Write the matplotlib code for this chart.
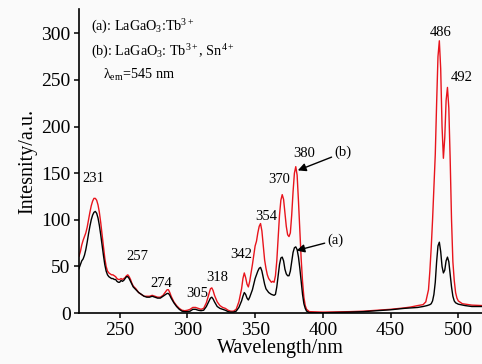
import matplotlib
matplotlib.use("Agg")
import matplotlib.pyplot as plt

plt.rcParams['font.family'] = ['Liberation Serif', 'DejaVu Serif']
plt.rcParams['mathtext.fontset'] = 'custom'
plt.rcParams['mathtext.rm'] = 'Liberation Serif'
plt.rcParams['mathtext.it'] = 'Liberation Serif:italic'

# (a) LaGaO3:Tb3+
wl_a = [220, 221, 222, 223, 224, 225, 226, 227, 228, 229, 230, 231, 232, 233, 234, 235,
        236, 237, 238, 239, 240, 241, 242, 243, 244, 245, 246, 247, 248, 249, 250, 251,
        252, 253, 254, 255, 256, 257, 258, 259, 260, 262, 264, 266, 268, 270, 272, 274,
        276, 278, 280, 282, 284, 285, 286, 287, 288, 290, 292, 294, 296, 298, 300, 302,
        304, 306, 308, 310, 312, 314, 316, 317, 318, 319, 320, 322, 324, 326, 328, 330,
        332, 334, 336, 338, 340, 341, 342, 343, 344, 345, 346, 348, 350, 352, 353, 354,
        355, 356, 357, 358, 360, 362, 364, 365, 366, 367, 368, 369, 370, 371, 372, 373,
        374, 375, 376, 377, 378, 379, 380, 381, 382, 383, 384, 385, 386, 387, 388, 390,
        400, 420, 430, 440, 450, 460, 465, 470, 474, 477, 479, 480, 481, 482, 483, 484,
        485, 486, 487, 488, 489, 490, 491, 492, 493, 494, 495, 496, 497, 498, 500, 505,
        510, 518]
int_a = [48, 52, 56, 58, 62, 68, 76, 85, 93, 100, 105, 108, 109, 107, 102, 94,
         84, 73, 62, 52, 45, 41, 39, 38, 37, 37, 36, 36, 34, 33, 33, 35,
         34, 35, 37, 39, 39, 37, 34, 31, 28, 25, 22, 20, 18, 17, 17, 18,
         17, 16, 16, 18, 20, 21, 21, 19, 16, 11, 7, 4, 2, 1.5, 1.5, 2,
         4, 4, 3, 2.5, 3, 7, 13, 16, 17, 15, 12, 7, 5, 4, 3, 1.5,
         1, 1, 2, 6, 13, 18, 22, 20, 16, 14, 17, 25, 37, 45, 48, 49,
         45, 38, 31, 26, 22, 20, 19, 20, 28, 40, 52, 59, 60, 56, 47, 42,
         40, 40, 45, 55, 65, 70, 71, 68, 60, 48, 34, 20, 10, 5, 2, 0.5,
         0.3, 1, 1.5, 2.5, 3.5, 5, 5.5, 6, 7, 8, 9, 10, 13, 20, 33, 55,
         72, 76, 66, 50, 43, 46, 56, 60, 55, 42, 28, 18, 13, 11, 9.5, 8,
         7, 7]

# (b) LaGaO3:Tb3+, Sn4+
wl_b = [220, 221, 222, 223, 224, 225, 226, 227, 228, 229, 230, 231, 232, 233, 234, 235,
        236, 237, 238, 239, 240, 241, 242, 243, 244, 245, 246, 247, 248, 249, 250, 251,
        252, 253, 254, 255, 256, 257, 258, 259, 260, 262, 264, 266, 268, 270, 272, 274,
        276, 278, 280, 282, 284, 285, 286, 287, 288, 290, 292, 294, 296, 298, 300, 302,
        304, 306, 308, 310, 312, 314, 316, 317, 318, 319, 320, 322, 324, 326, 328, 330,
        332, 334, 336, 338, 340, 341, 342, 343, 344, 345, 346, 348, 349, 350, 351, 352,
        353, 354, 355, 356, 357, 358, 359, 360, 361, 362, 363, 364, 365, 366, 367, 368,
        369, 370, 371, 372, 373, 374, 375, 376, 377, 378, 379, 380, 381, 382, 383, 384,
        385, 386, 387, 388, 390, 400, 420, 430, 440, 450, 460, 465, 470, 474, 476, 478,
        479, 480, 481, 482, 483, 484, 485, 486, 487, 488, 489, 490, 491, 492, 493, 494,
        495, 496, 497, 498, 499, 500, 503, 510, 518]
int_b = [61, 66, 73, 78, 82, 86, 92, 100, 108, 115, 120, 123, 123, 121, 116, 108,
         97, 84, 71, 59, 50, 45, 43, 42, 41, 41, 40, 39, 37, 36, 36, 37,
         36, 37, 38, 40, 41, 39, 36, 32, 29, 26, 22, 20, 18, 18, 18, 19,
         18, 17, 17, 19, 23, 25, 25, 22, 18, 12, 8, 5, 3, 2.5, 3, 4,
         6, 6, 5, 4, 5, 11, 21, 26, 27, 24, 19, 12, 8, 6, 5, 3,
         2, 2, 4, 12, 26, 37, 43, 38, 31, 28, 34, 52, 62, 72, 77, 86,
         93, 96, 88, 72, 57, 48, 41, 37, 35, 33, 34, 33, 40, 56, 80, 105,
         121, 127, 122, 108, 93, 84, 82, 86, 105, 130, 150, 157, 148, 120, 88, 58,
         34, 17, 8, 4, 1.5, 1, 1.5, 2, 3, 4, 5.5, 6.5, 8, 9, 12, 25,
         45, 70, 100, 135, 170, 225, 275, 292, 262, 200, 166, 188, 228, 242, 220, 165,
         100, 55, 35, 22, 16, 13, 10, 8.5, 8]

peak_labels = ['231', '257', '274', '305', '318', '342', '354', '370', '380', '486', '492']
label_x = [230.3, 262.7, 281, 307, 322, 340, 358.4, 368, 386.4, 487.3, 502.8]
label_y = [144.7, 61, 32, 21, 38.6, 63, 104, 143.6, 171, 301, 253]

fig = plt.figure(figsize=(4.82, 3.64), dpi=100, facecolor='#fafafa')
ax = fig.add_axes([0.164, 0.14, 0.836, 0.835])
ax.set_facecolor('#fafafa')

ax.plot(wl_b, int_b, color='#e8141c', lw=1.0)
ax.plot(wl_a, int_a, color='black', lw=1.0)

for s, x, y in zip(peak_labels, label_x, label_y):
    ax.text(x, y, s, fontsize=10.5, ha='center', va='center')

ax.annotate('(b)', xy=(381.5, 153), xytext=(408.5, 172), fontsize=10.5, va='center',
            arrowprops=dict(arrowstyle='-|>', color='black', lw=1.0, mutation_scale=12,
                            shrinkA=0, shrinkB=0))
ax.annotate('(a)', xy=(380.5, 67), xytext=(403.4, 78), fontsize=10.5, va='center',
            arrowprops=dict(arrowstyle='-|>', color='black', lw=1.0, mutation_scale=12,
                            shrinkA=0, shrinkB=0))

ax.text(229, 307, r'(a): LaGaO$_3$:Tb$^{3+}$', fontsize=10.2, va='center')
ax.text(229, 280, r'(b): LaGaO$_3$: Tb$^{3+}$, Sn$^{4+}$', fontsize=10.2, va='center')
ax.text(238, 255, r'λ$_{\rm em}$=545 nm', fontsize=10.2, va='center')

ax.set_xlim(220, 517.5)
ax.set_ylim(0, 326)
ax.set_xticks([250, 300, 350, 400, 450, 500])
ax.set_yticks([0, 50, 100, 150, 200, 250, 300])
ax.tick_params(labelsize=14, direction='out', length=3.6, width=1.1, pad=2.5)
ax.spines['top'].set_visible(False)
ax.spines['right'].set_visible(False)
for sp in ['left', 'bottom']:
    ax.spines[sp].set_linewidth(1.2)

ax.set_xlabel('Wavelength/nm', fontsize=14.5, labelpad=0)
ax.set_ylabel('Intesnity/a.u.', fontsize=14.5, labelpad=3)

fig.savefig('out.png', dpi=100, facecolor=fig.get_facecolor())
